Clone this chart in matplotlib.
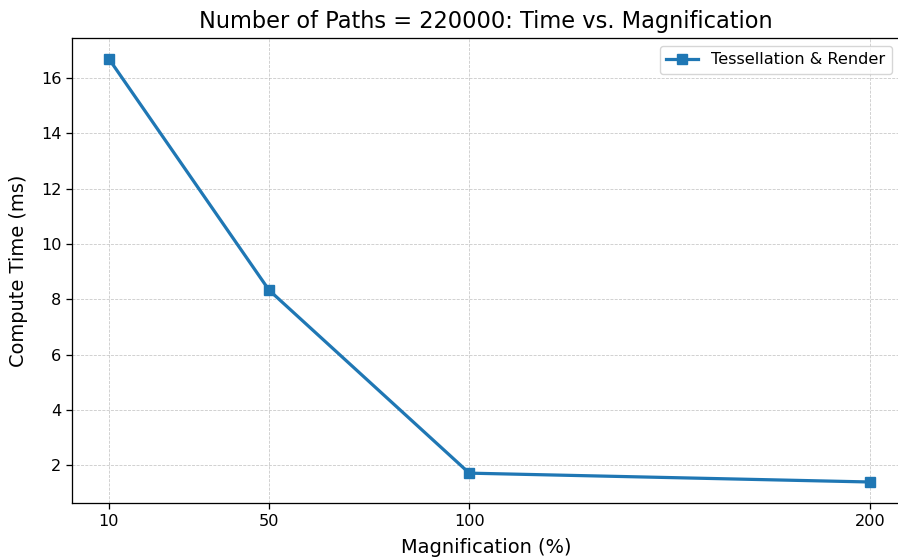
import matplotlib
matplotlib.use("Agg")
import matplotlib.pyplot as plt

magnification = [10, 50, 100, 200]
compute_time = [16.7, 8.33, 1.71, 1.39]
tick_labels = ["10", "50", "100", "200"]

s = 1.16  # reference looks rendered ~16% larger than defaults
fig = plt.figure(figsize=(8.98, 5.59), dpi=100)
ax = fig.add_axes([72 / 898, 1 - 503 / 559, 1 - 72 / 898 + 0.002, (503 - 38) / 559])
ax.plot(magnification, compute_time, marker="s", markersize=6 * s, linewidth=2 * s,
        color="#1f77b4", label="Tessellation & Render")
ax.set_xticks(magnification)
ax.set_xticklabels(tick_labels)
ax.set_xlim(0.8, 207.5)
ax.set_ylim(0.63, 17.45)
ax.tick_params(labelsize=10 * s, length=3.5 * s, width=0.8 * s)
for sp in ax.spines.values():
    sp.set_linewidth(0.8 * s)
ax.grid(True, linestyle="--", linewidth=0.5 * s, alpha=0.7)
ax.set_title("Number of Paths = 220000: Time vs. Magnification", fontsize=14 * s, pad=6 * s)
ax.set_xlabel("Magnification (%)", fontsize=12 * s, labelpad=6 * s)
ax.set_ylabel("Compute Time (ms)", fontsize=12 * s, labelpad=8 * s)
ax.legend(loc="upper right", fontsize=10 * s)
fig.savefig("out.png", dpi=100)
